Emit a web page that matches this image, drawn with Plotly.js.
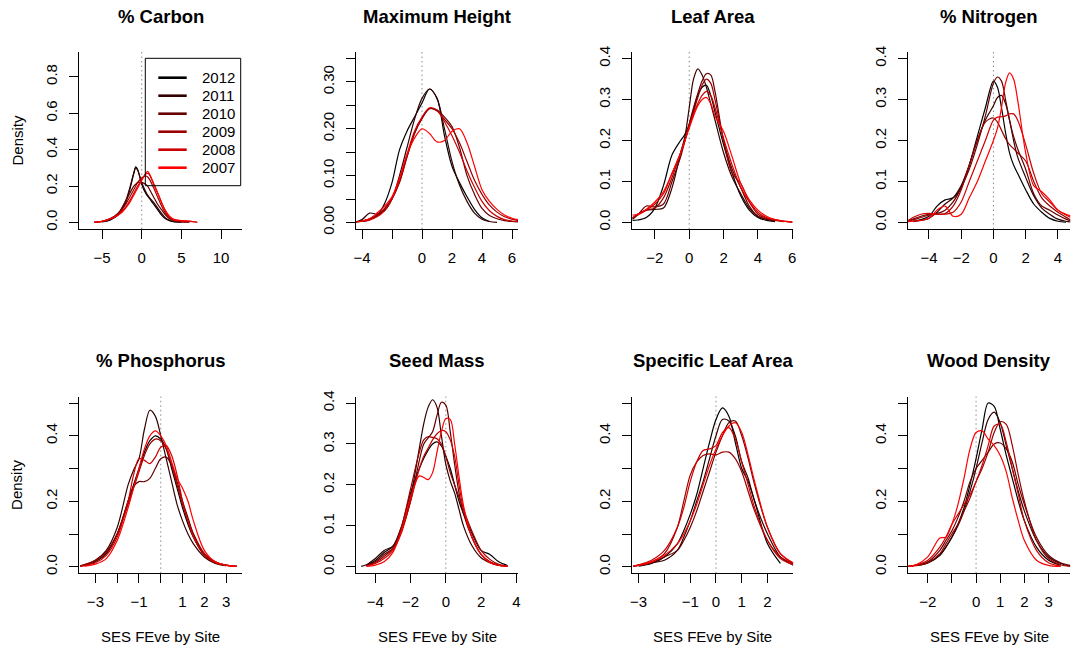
<!DOCTYPE html>
<html>
<head>
<meta charset="utf-8">
<script src="https://cdn.plot.ly/plotly-3.0.1.min.js"></script>
<style>
  html, body { margin: 0; padding: 0; background: #ffffff; }
  #chart { width: 1071px; height: 651px; }
</style>
</head>
<body>
<div id="chart"></div>
<script>
// Survey years, newest first, shaded from black to red
const years = ['2012', '2011', '2010', '2009', '2008', '2007'];
const yearColors = ['#000000', '#330000', '#660000', '#990000', '#CC0000', '#FF0000'];

const traitNames = ['% Carbon', 'Maximum Height', 'Leaf Area', '% Nitrogen',
                    '% Phosphorus', 'Seed Mass', 'Specific Leaf Area', 'Wood Density'];

// Kernel density estimates of SES FEve, one row per year (2012 ... 2007)
const carbonX = [-6, -5, -4, -3, -2.5, -2, -1.5, -1, -0.75, -0.5, 0, 0.5, 0.75, 1, 1.5, 2, 2.5, 3, 3.5, 4, 5, 6, 7];
const carbonDensity = [
  [null, 0.003, 0.012, 0.04, 0.07, 0.11, 0.18, 0.27, 0.305, 0.29, 0.21, 0.16, 0.145, 0.13, 0.10, 0.07, 0.04, 0.02, 0.01, 0.004, 0.001, null, null],
  [null, 0.004, 0.015, 0.045, 0.075, 0.12, 0.19, 0.27, 0.30, 0.285, 0.22, 0.17, 0.15, 0.135, 0.11, 0.08, 0.05, 0.025, 0.012, 0.005, 0.002, null, null],
  [0.001, 0.006, 0.02, 0.05, 0.08, 0.12, 0.16, 0.2, 0.21, 0.22, 0.22, 0.21, 0.2, 0.18, 0.14, 0.1, 0.07, 0.04, 0.02, 0.01, 0.003, 0.001, null],
  [0.001, 0.006, 0.02, 0.045, 0.07, 0.1, 0.14, 0.18, 0.2, 0.22, 0.245, 0.255, 0.25, 0.235, 0.19, 0.14, 0.09, 0.05, 0.025, 0.012, 0.005, 0.002, null],
  [0.001, 0.005, 0.018, 0.04, 0.06, 0.085, 0.12, 0.16, 0.18, 0.2, 0.235, 0.265, 0.27, 0.26, 0.21, 0.16, 0.11, 0.06, 0.03, 0.015, 0.008, 0.006, 0.001],
  [0.001, 0.006, 0.02, 0.04, 0.055, 0.08, 0.11, 0.15, 0.17, 0.19, 0.23, 0.27, 0.28, 0.265, 0.215, 0.165, 0.11, 0.065, 0.035, 0.018, 0.01, 0.008, 0.001]
];

const heightX = [-4.4, -4, -3.5, -3, -2.5, -2, -1.5, -1, -0.5, 0, 0.5, 1, 1.5, 2, 2.5, 3, 3.5, 4, 4.5, 5, 5.5, 6, 6.4];
const heightDensity = [
  [null, 0.002, 0.006, 0.015, 0.04, 0.085, 0.155, 0.195, 0.225, 0.255, 0.285, 0.265, 0.185, 0.12, 0.085, 0.055, 0.028, 0.01, 0.002, null, null, null, null],
  [0.001, 0.006, 0.02, 0.018, 0.025, 0.05, 0.1, 0.16, 0.22, 0.265, 0.285, 0.265, 0.2, 0.13, 0.08, 0.045, 0.02, 0.007, 0.002, 0.0, null, null, null],
  [0.001, 0.003, 0.007, 0.014, 0.028, 0.05, 0.085, 0.14, 0.19, 0.222, 0.243, 0.24, 0.225, 0.205, 0.16, 0.1, 0.06, 0.03, 0.015, 0.008, 0.004, 0.002, 0.001],
  [0.001, 0.003, 0.008, 0.016, 0.03, 0.052, 0.088, 0.14, 0.19, 0.222, 0.243, 0.238, 0.22, 0.2, 0.17, 0.13, 0.09, 0.06, 0.037, 0.022, 0.012, 0.007, 0.004],
  [null, 0.002, 0.005, 0.012, 0.025, 0.05, 0.09, 0.145, 0.195, 0.225, 0.245, 0.24, 0.215, 0.185, 0.15, 0.11, 0.075, 0.045, 0.025, 0.013, 0.006, 0.003, 0.002],
  [0.001, 0.003, 0.008, 0.02, 0.035, 0.055, 0.095, 0.145, 0.18, 0.2, 0.19, 0.172, 0.175, 0.195, 0.2, 0.17, 0.12, 0.07, 0.045, 0.028, 0.016, 0.009, 0.006]
];

const leafX = [-3.3, -3, -2.5, -2, -1.5, -1, -0.5, -0.25, 0, 0.25, 0.5, 0.75, 1, 1.25, 1.5, 2, 2.5, 3, 3.5, 4, 4.5, 5, 5.5, 6];
const leafDensity = [
  [0.005, 0.006, 0.012, 0.035, 0.09, 0.165, 0.2, 0.215, 0.24, 0.275, 0.31, 0.33, 0.335, 0.31, 0.27, 0.19, 0.12, 0.065, 0.03, 0.012, 0.005, 0.002, null, null],
  [0.01, 0.02, 0.03, 0.032, 0.035, 0.085, 0.17, 0.21, 0.28, 0.35, 0.375, 0.36, 0.33, 0.29, 0.25, 0.17, 0.11, 0.07, 0.035, 0.015, 0.008, 0.003, null, null],
  [0.008, 0.018, 0.04, 0.038, 0.045, 0.1, 0.16, 0.2, 0.24, 0.28, 0.315, 0.345, 0.363, 0.36, 0.32, 0.2, 0.13, 0.085, 0.04, 0.015, 0.008, 0.005, 0.002, null],
  [0.01, 0.02, 0.03, 0.035, 0.06, 0.11, 0.17, 0.2, 0.235, 0.27, 0.305, 0.335, 0.35, 0.34, 0.3, 0.2, 0.12, 0.095, 0.05, 0.02, 0.01, 0.007, 0.003, 0.001],
  [0.012, 0.018, 0.03, 0.045, 0.07, 0.12, 0.17, 0.2, 0.235, 0.265, 0.29, 0.31, 0.32, 0.31, 0.28, 0.205, 0.14, 0.085, 0.05, 0.025, 0.012, 0.006, 0.003, 0.001],
  [0.018, 0.02, 0.032, 0.05, 0.075, 0.12, 0.17, 0.2, 0.23, 0.26, 0.285, 0.3, 0.305, 0.29, 0.26, 0.222, 0.16, 0.095, 0.055, 0.03, 0.015, 0.007, 0.003, 0.001]
];

const nitrogenX = [-5.3, -5, -4.5, -4, -3.5, -3, -2.5, -2, -1.5, -1, -0.5, 0, 0.25, 0.5, 0.75, 1, 1.25, 1.5, 2, 2.5, 3, 3.5, 4, 4.5, 4.8];
const nitrogenDensity = [
  [null, 0.003, 0.007, 0.015, 0.04, 0.055, 0.06, 0.085, 0.14, 0.21, 0.28, 0.345, 0.33, 0.28, 0.22, 0.17, 0.14, 0.12, 0.08, 0.045, 0.025, 0.01, 0.003, 0.001, null],
  [null, 0.002, 0.005, 0.01, 0.025, 0.045, 0.06, 0.09, 0.14, 0.2, 0.25, 0.285, 0.305, 0.31, 0.29, 0.25, 0.2, 0.16, 0.11, 0.065, 0.035, 0.02, 0.008, 0.003, 0.001],
  [0.003, 0.008, 0.015, 0.02, 0.022, 0.03, 0.05, 0.085, 0.13, 0.19, 0.26, 0.34, 0.355, 0.345, 0.3, 0.25, 0.21, 0.18, 0.13, 0.07, 0.04, 0.03, 0.018, 0.008, 0.004],
  [0.002, 0.006, 0.012, 0.018, 0.02, 0.022, 0.04, 0.08, 0.14, 0.2, 0.245, 0.255, 0.245, 0.225, 0.205, 0.19, 0.18, 0.17, 0.15, 0.1, 0.06, 0.04, 0.025, 0.013, 0.006],
  [0.005, 0.012, 0.02, 0.022, 0.02, 0.02, 0.025, 0.05, 0.1, 0.15, 0.2, 0.25, 0.257, 0.258, 0.26, 0.265, 0.265, 0.25, 0.19, 0.12, 0.07, 0.05, 0.03, 0.018, 0.012],
  [0.002, 0.003, 0.005, 0.01, 0.03, 0.04, 0.015, 0.02, 0.06, 0.1, 0.15, 0.2, 0.23, 0.28, 0.34, 0.365, 0.35, 0.3, 0.17, 0.09, 0.075, 0.055, 0.03, 0.02, 0.016]
];

const phosphorusX = [-3.7, -3.5, -3, -2.5, -2, -1.5, -1.25, -1, -0.75, -0.5, -0.25, 0, 0.25, 0.5, 0.75, 1, 1.25, 1.5, 2, 2.5, 3, 3.5];
const phosphorusDensity = [
  [null, 0.003, 0.015, 0.04, 0.1, 0.2, 0.25, 0.3, 0.35, 0.385, 0.4, 0.39, 0.36, 0.3, 0.24, 0.18, 0.13, 0.09, 0.035, 0.012, 0.003, null],
  [0.002, 0.005, 0.02, 0.05, 0.12, 0.25, 0.295, 0.33, 0.42, 0.478, 0.46, 0.4, 0.33, 0.26, 0.19, 0.14, 0.1, 0.07, 0.03, 0.01, 0.003, null],
  [0.003, 0.007, 0.02, 0.045, 0.1, 0.2, 0.245, 0.26, 0.26, 0.27, 0.3, 0.33, 0.335, 0.31, 0.26, 0.2, 0.15, 0.1, 0.04, 0.015, 0.005, 0.001],
  [0.002, 0.005, 0.018, 0.045, 0.1, 0.19, 0.24, 0.29, 0.34, 0.375, 0.39, 0.385, 0.36, 0.31, 0.25, 0.19, 0.14, 0.1, 0.04, 0.015, 0.005, 0.001],
  [0.001, 0.003, 0.012, 0.035, 0.09, 0.2, 0.28, 0.33, 0.325, 0.315, 0.335, 0.365, 0.37, 0.34, 0.28, 0.2, 0.14, 0.09, 0.035, 0.012, 0.004, 0.001],
  [null, 0.002, 0.008, 0.025, 0.08, 0.18, 0.24, 0.3, 0.36, 0.4, 0.415, 0.4, 0.37, 0.32, 0.27, 0.24, 0.2, 0.14, 0.05, 0.015, 0.004, 0.001]
];

const seedX = [-4.8, -4.5, -4, -3.5, -3, -2.5, -2, -1.5, -1.25, -1, -0.75, -0.5, -0.25, 0, 0.25, 0.5, 0.75, 1, 1.5, 2, 2.5, 3, 3.5, 3.8];
const seedDensity = [
  [null, 0.003, 0.015, 0.035, 0.05, 0.1, 0.18, 0.24, 0.265, 0.285, 0.3, 0.305, 0.295, 0.27, 0.24, 0.2, 0.16, 0.13, 0.08, 0.04, 0.03, 0.012, 0.003, null],
  [0.001, 0.005, 0.02, 0.04, 0.05, 0.09, 0.17, 0.29, 0.35, 0.39, 0.408, 0.39, 0.32, 0.25, 0.21, 0.18, 0.14, 0.1, 0.05, 0.022, 0.01, 0.003, null, null],
  [null, 0.003, 0.012, 0.03, 0.045, 0.09, 0.16, 0.26, 0.3, 0.315, 0.33, 0.37, 0.402, 0.395, 0.33, 0.25, 0.18, 0.13, 0.07, 0.03, 0.012, 0.004, 0.001, null],
  [null, 0.002, 0.01, 0.025, 0.045, 0.1, 0.19, 0.28, 0.31, 0.318, 0.316, 0.313, 0.3, 0.27, 0.23, 0.2, 0.17, 0.14, 0.085, 0.04, 0.018, 0.006, 0.002, null],
  [null, 0.002, 0.008, 0.02, 0.04, 0.085, 0.16, 0.24, 0.27, 0.29, 0.31, 0.325, 0.333, 0.33, 0.31, 0.27, 0.2, 0.14, 0.07, 0.03, 0.012, 0.004, 0.001, null],
  [null, 0.001, 0.004, 0.012, 0.035, 0.09, 0.17, 0.222, 0.218, 0.213, 0.23, 0.28, 0.33, 0.362, 0.36, 0.3, 0.22, 0.15, 0.07, 0.03, 0.01, 0.003, 0.001, null]
];

const slaX = [-3.2, -3, -2.5, -2, -1.5, -1.25, -1, -0.75, -0.5, -0.25, 0, 0.25, 0.5, 0.75, 1, 1.25, 1.5, 2, 2.5, 3];
const slaDensity = [
  [null, 0.002, 0.01, 0.03, 0.07, 0.11, 0.16, 0.22, 0.3, 0.38, 0.45, 0.485, 0.46, 0.38, 0.3, 0.26, 0.2, 0.07, 0.01, null],
  [0.002, 0.005, 0.012, 0.02, 0.05, 0.09, 0.14, 0.2, 0.26, 0.33, 0.4, 0.45, 0.445, 0.4, 0.32, 0.27, 0.2, 0.1, 0.03, 0.005],
  [0.002, 0.004, 0.012, 0.03, 0.05, 0.08, 0.12, 0.17, 0.23, 0.29, 0.35, 0.4, 0.44, 0.445, 0.4, 0.33, 0.25, 0.12, 0.04, 0.01],
  [0.002, 0.005, 0.015, 0.04, 0.12, 0.2, 0.28, 0.32, 0.34, 0.345, 0.342, 0.35, 0.35, 0.33, 0.29, 0.23, 0.17, 0.08, 0.03, 0.01],
  [0.003, 0.006, 0.02, 0.05, 0.12, 0.18, 0.26, 0.32, 0.355, 0.36, 0.37, 0.41, 0.425, 0.39, 0.32, 0.25, 0.18, 0.08, 0.025, 0.006],
  [0.002, 0.004, 0.015, 0.035, 0.07, 0.1, 0.14, 0.19, 0.25, 0.31, 0.36, 0.4, 0.43, 0.44, 0.41, 0.34, 0.26, 0.12, 0.04, 0.012]
];

const woodX = [-2.8, -2.5, -2, -1.5, -1.25, -1, -0.75, -0.5, -0.25, 0, 0.25, 0.5, 0.75, 1, 1.25, 1.5, 1.75, 2, 2.5, 3, 3.5, 3.9];
const woodDensity = [
  [null, 0.004, 0.012, 0.035, 0.06, 0.09, 0.13, 0.18, 0.25, 0.33, 0.42, 0.5, 0.49, 0.42, 0.34, 0.27, 0.2, 0.14, 0.06, 0.02, 0.005, null],
  [null, 0.004, 0.012, 0.035, 0.06, 0.09, 0.125, 0.17, 0.23, 0.3, 0.38, 0.45, 0.472, 0.44, 0.37, 0.3, 0.23, 0.17, 0.08, 0.03, 0.01, 0.002],
  [0.002, 0.005, 0.015, 0.05, 0.08, 0.11, 0.15, 0.2, 0.26, 0.3, 0.325, 0.35, 0.375, 0.378, 0.36, 0.32, 0.25, 0.19, 0.09, 0.035, 0.012, 0.004],
  [0.001, 0.003, 0.012, 0.04, 0.07, 0.1, 0.13, 0.17, 0.21, 0.26, 0.3, 0.35, 0.41, 0.443, 0.435, 0.37, 0.28, 0.2, 0.08, 0.025, 0.006, 0.001],
  [0.001, 0.005, 0.02, 0.06, 0.09, 0.13, 0.16, 0.19, 0.22, 0.26, 0.31, 0.37, 0.43, 0.435, 0.38, 0.3, 0.22, 0.14, 0.05, 0.012, 0.002, null],
  [0.001, 0.005, 0.03, 0.088, 0.09, 0.13, 0.19, 0.27, 0.36, 0.41, 0.415, 0.39, 0.37, 0.34, 0.29, 0.21, 0.14, 0.08, 0.02, 0.004, 0.001, null]
];

// Tick positions; an empty label is a tick R leaves unlabelled
const M = '\u2212';
const panelSetup = [
  { x: carbonX, dens: carbonDensity, xr: [-7.86, 12.63], yr: [-0.036, 0.936],
    xt: [-5, 0, 5, 10], xl: [M + '5', '0', '5', '10'],
    yt: [0, 0.2, 0.4, 0.6, 0.8], yl: ['0.0', '0.2', '0.4', '0.6', '0.8'] },
  { x: heightX, dens: heightDensity, xr: [-4.42, 6.42], yr: [-0.014, 0.364],
    xt: [-4, -2, 0, 2, 4, 6], xl: [M + '4', '', '0', '2', '4', '6'],
    yt: [0, 0.05, 0.1, 0.15, 0.2, 0.25, 0.3, 0.35], yl: ['0.00', '', '0.10', '', '0.20', '', '0.30', ''] },
  { x: leafX, dens: leafDensity, xr: [-3.35, 6.06], yr: [-0.016, 0.416],
    xt: [-2, 0, 2, 4, 6], xl: [M + '2', '0', '2', '4', '6'],
    yt: [0, 0.1, 0.2, 0.3, 0.4], yl: ['0.0', '0.1', '0.2', '0.3', '0.4'] },
  { x: nitrogenX, dens: nitrogenDensity, xr: [-5.32, 4.77], yr: [-0.016, 0.416],
    xt: [-4, -2, 0, 2, 4], xl: [M + '4', M + '2', '0', '2', '4'],
    yt: [0, 0.1, 0.2, 0.3, 0.4], yl: ['0.0', '0.1', '0.2', '0.3', '0.4'] },
  { x: phosphorusX, dens: phosphorusDensity, xr: [-3.74, 3.73], yr: [-0.02, 0.52],
    xt: [-3, -2, -1, 0, 1, 2, 3], xl: [M + '3', '', M + '1', '', '1', '2', '3'],
    yt: [0, 0.1, 0.2, 0.3, 0.4, 0.5], yl: ['0.0', '', '0.2', '', '0.4', ''] },
  { x: seedX, dens: seedDensity, xr: [-5.11, 4.11], yr: [-0.016, 0.416],
    xt: [-4, -2, 0, 2, 4], xl: [M + '4', M + '2', '0', '2', '4'],
    yt: [0, 0.1, 0.2, 0.3, 0.4], yl: ['0.0', '0.1', '0.2', '0.3', '0.4'] },
  { x: slaX, dens: slaDensity, xr: [-3.27, 3.0], yr: [-0.02, 0.52],
    xt: [-3, -2, -1, 0, 1, 2], xl: [M + '3', '', M + '1', '0', '1', '2'],
    yt: [0, 0.1, 0.2, 0.3, 0.4, 0.5], yl: ['0.0', '', '0.2', '', '0.4', ''] },
  { x: woodX, dens: woodDensity, xr: [-2.83, 3.9], yr: [-0.02, 0.52],
    xt: [-2, -1, 0, 1, 2, 3], xl: [M + '2', '', '0', '1', '2', '3'],
    yt: [0, 0.1, 0.2, 0.3, 0.4, 0.5], yl: ['0.0', '', '0.2', '', '0.4', ''] }
];

// Page geometry in pixels
const W = 1071, H = 651;
const colPx = [[79.3, 242], [355.7, 518.3], [631.7, 793.3], [907.7, 1070.3]];
const rowPx = [[52, 229], [396.5, 573.3]];
const px = v => v / W;
const py = v => 1 - v / H;

const FONT = 'Liberation Sans, Arial, Helvetica, sans-serif';
const traces = [];
const layout = {
  width: W, height: H,
  margin: { l: 0, r: 0, t: 0, b: 0 },
  paper_bgcolor: '#ffffff', plot_bgcolor: 'rgba(0,0,0,0)',
  showlegend: false,
  font: { family: FONT, size: 15, color: '#000000' },
  shapes: [], annotations: []
};

panelSetup.forEach((p, i) => {
  const s = i === 0 ? '' : String(i + 1);
  const col = colPx[i % 4], row = rowPx[Math.floor(i / 4)];

  p.dens.forEach((ys, j) => {
    traces.push({
      type: 'scatter', mode: 'lines', x: p.x, y: ys,
      xaxis: 'x' + s, yaxis: 'y' + s,
      line: { color: yearColors[j], width: 1.2, shape: 'spline', smoothing: 0.9 },
      hoverinfo: 'skip', showlegend: false
    });
  });

  const common = {
    showline: true, linecolor: '#000000', linewidth: 1,
    ticks: 'outside', ticklen: 9, tickwidth: 1, tickcolor: '#000000',
    showgrid: false, zeroline: false, fixedrange: true,
    tickmode: 'array', tickfont: { family: FONT, size: 15, color: '#000000' }
  };
  layout['xaxis' + s] = Object.assign({}, common, {
    domain: [px(col[0]), px(col[1])], anchor: 'y' + s,
    range: p.xr, tickvals: p.xt, ticktext: p.xl, ticklabelstandoff: 6
  });
  layout['yaxis' + s] = Object.assign({}, common, {
    domain: [py(row[1]), py(row[0])], anchor: 'x' + s,
    range: p.yr, tickvals: p.yt, ticktext: p.yl, tickangle: -90, ticklabelstandoff: 6
  });

  // dotted reference line at zero
  layout.shapes.push({
    type: 'line', xref: 'x' + s, yref: 'y' + s + ' domain',
    x0: 0, x1: 0, y0: 0, y1: 1,
    line: { color: '#8c8c8c', width: 1, dash: '1.5px,3px' }, layer: 'below'
  });

  // panel title
  layout.annotations.push({
    xref: 'paper', yref: 'paper', x: px((col[0] + col[1]) / 2),
    y: py(i < 4 ? 16 : 360), xanchor: 'center', yanchor: 'middle',
    text: '<b>' + traitNames[i] + '</b>', showarrow: false,
    font: { family: FONT, size: 18.5, color: '#000000' }
  });

  if (i % 4 === 0) {
    layout.annotations.push({
      xref: 'paper', yref: 'paper', x: px(17), y: py((row[0] + row[1]) / 2),
      xanchor: 'center', yanchor: 'middle', textangle: -90,
      text: 'Density', showarrow: false, font: { family: FONT, size: 15, color: '#000000' }
    });
  }
  if (i >= 4) {
    layout.annotations.push({
      xref: 'paper', yref: 'paper', x: px((col[0] + col[1]) / 2), y: py(636.7),
      xanchor: 'center', yanchor: 'middle',
      text: 'SES FEve by Site', showarrow: false, font: { family: FONT, size: 15, color: '#000000' }
    });
  }
});

// Year key inside the first panel
layout.shapes.push({
  type: 'rect', xref: 'paper', yref: 'paper',
  x0: px(145.3), x1: px(240.7), y0: py(185.7), y1: py(58.3),
  line: { color: '#000000', width: 1 }, fillcolor: 'rgba(0,0,0,0)'
});
years.forEach((yr, j) => {
  const yy = 77.7 + 18 * j;
  layout.shapes.push({
    type: 'line', xref: 'paper', yref: 'paper',
    x0: px(158.3), x1: px(186.7), y0: py(yy), y1: py(yy),
    line: { color: yearColors[j], width: 2.6 }
  });
  layout.annotations.push({
    xref: 'paper', yref: 'paper', x: px(199.5), y: py(yy),
    xanchor: 'left', yanchor: 'middle', text: yr, showarrow: false,
    font: { family: FONT, size: 15, color: '#000000' }
  });
});

Plotly.newPlot('chart', traces, layout, { displayModeBar: false, staticPlot: true });
</script>
</body>
</html>
